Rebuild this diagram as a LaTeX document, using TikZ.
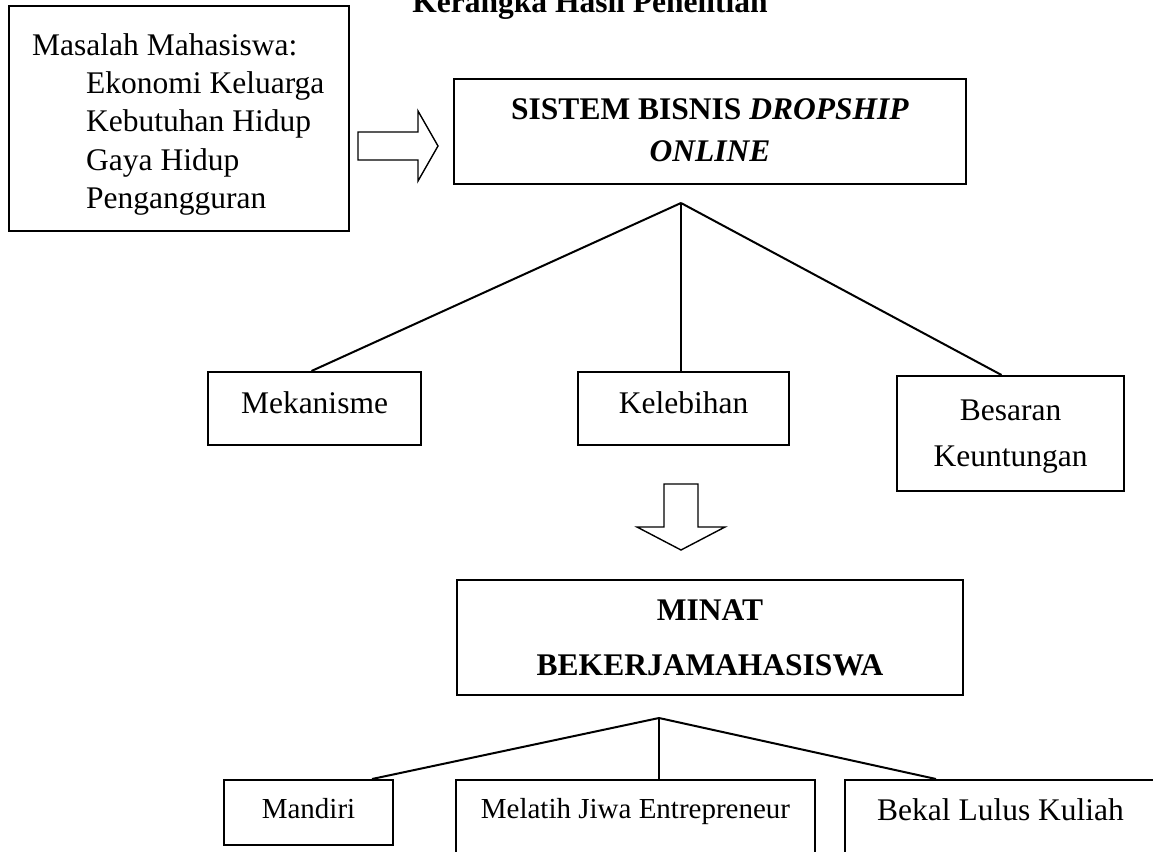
\documentclass[tikz,border=0pt]{standalone}
\usepackage{fontspec}
\setmainfont{Liberation Serif}
\usetikzlibrary{calc}
\begin{document}
\begin{tikzpicture}[x=1pt,y=-1pt,line join=miter,
  box/.style={draw,line width=2pt,inner sep=0pt},
  conn/.style={line width=2pt},
  blockarrow/.style={draw,line width=1.4pt},
  big/.style={font=\fontsize{31.5}{38}\selectfont},
  small/.style={font=\fontsize{29}{35}\selectfont},
  bigb/.style={font=\fontsize{31.5}{38}\selectfont\bfseries},
  txt/.style={inner sep=0pt,anchor=base}]
\useasboundingbox (0,0) rectangle (1153,851);
\clip (0,0) rectangle (1153,851);

% title (cut off at the top)
\node[txt,bigb] (title) at (590,13) {Kerangka Hasil Penelitian};

% problems box
\node[box,minimum width=340pt,minimum height=225pt] (masalah) at (179,118.5) {};
\node[txt,anchor=base west,big] (m0) at (32,56) {Masalah Mahasiswa:};
\node[txt,anchor=base west,big] (m1) at (86,93) {Ekonomi Keluarga};
\node[txt,anchor=base west,big] (m2) at (86,131) {Kebutuhan Hidup};
\node[txt,anchor=base west,big] (m3) at (86,170) {Gaya Hidup};
\node[txt,anchor=base west,big] (m4) at (86,208) {Pengangguran};

% right block arrow
\draw[blockarrow] (358,132) -- (418,132) -- (418,111) -- (438,146) -- (418,181) -- (418,160) -- (358,160) -- cycle;

% system box
\node[box,minimum width=512pt,minimum height=105pt] (sistem) at (710,131.5) {};
\node[txt,bigb] (s1) at (710,119) {SISTEM BISNIS \textit{DROPSHIP}};
\node[txt,bigb] (s2) at (710,161) {\textit{ONLINE}};
\coordinate (apex1) at (681,203);

% three aspects
\node[box,minimum width=213pt,minimum height=73pt] (mek) at (314.5,408.5) {};
\node[txt,big] (mekt) at (314.5,413) {Mekanisme};
\node[box,minimum width=211pt,minimum height=73pt] (kel) at (683.5,408.5) {};
\node[txt,big] (kelt) at (683.5,413) {Kelebihan};
\node[box,minimum width=227pt,minimum height=115pt] (bes) at (1010.5,433.5) {};
\node[txt,big] (bes1) at (1010.5,420) {Besaran};
\node[txt,big] (bes2) at (1010.5,466) {Keuntungan};

\draw[conn] (apex1) -- ([xshift=-3pt]mek.north);
\draw[conn] (apex1) -- (apex1 |- kel.north);
\draw[conn] (apex1) -- ([xshift=-9pt]bes.north);

% down block arrow
\draw[blockarrow] (664,484) -- (698,484) -- (698,527) -- (725,527) -- (681,550) -- (637,527) -- (664,527) -- cycle;

% interest box
\node[box,minimum width=506pt,minimum height=115pt] (minat) at (710,637.5) {};
\node[txt,bigb] (mi1) at (710,620) {MINAT};
\node[txt,bigb] (mi2) at (710,675) {BEKERJAMAHASISWA};
\coordinate (apex2) at (659,718);

% outcomes
\node[box,minimum width=169pt,minimum height=65pt] (mandiri) at (308.5,812.5) {};
\node[txt,small] (mandirit) at (308.5,818) {Mandiri};
\node[box,minimum width=359pt,minimum height=100pt] (melatih) at (635.5,830) {};
\node[txt,small] (melatiht) at (635.5,818) {Melatih Jiwa Entrepreneur};
\node[box,minimum width=315pt,minimum height=100pt] (bekal) at (1002.5,830) {};
\node[txt,big] (bekalt) at (1000.5,820) {Bekal Lulus Kuliah};

\draw[conn] (apex2) -- ([xshift=63.5pt]mandiri.north);
\draw[conn] (apex2) -- (apex2 |- melatih.north);
\draw[conn] (apex2) -- ([xshift=-66.5pt]bekal.north);
\end{tikzpicture}
\end{document}
